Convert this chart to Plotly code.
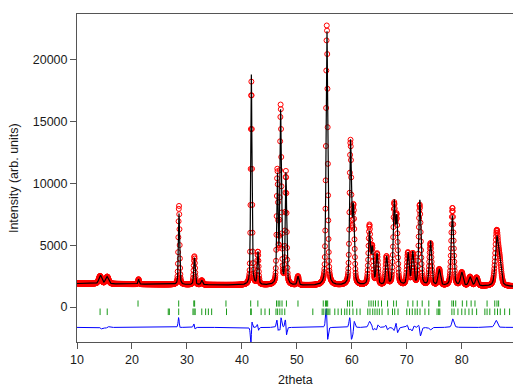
import numpy as np
import plotly.graph_objects as go

# ---------------- data ----------------
# Peak list: position (2theta), observed total height (counts), FWHM (deg)
peak_pos = [14.2, 15.5, 21.2, 28.55, 31.35, 32.7, 41.72, 42.9, 46.45, 47.05, 48.0,
            50.2, 55.45, 59.75, 60.3, 63.2, 63.7, 64.6, 66.3, 67.7, 68.15, 70.2,
            71.1, 72.35, 74.3, 75.9, 78.3, 80.0, 81.5, 82.7, 86.35, 86.9]
peak_top = [2500, 2450, 2250, 8200, 4100, 2150, 18200, 4400, 10800, 16100, 10800,
            2450, 22800, 13200, 7800, 6400, 4600, 4200, 4000, 7900, 6900, 4300,
            4200, 8200, 5100, 3000, 8000, 2750, 2400, 2350, 5900, 3400]
peak_fwhm = [0.6, 0.6, 0.25, 0.26, 0.3, 0.35, 0.27, 0.3, 0.3, 0.32, 0.3,
             0.35, 0.36, 0.38, 0.4, 0.42, 0.42, 0.4, 0.42, 0.42, 0.42, 0.45,
             0.45, 0.45, 0.48, 0.5, 0.5, 0.55, 0.55, 0.55, 0.65, 0.65]
# Calculated-pattern deviation per peak (shift in deg, height ratio calc/obs)
calc_shift = [0.05, -0.05, 0.0, 0.01, 0.02, 0.0, -0.01, 0.02, 0.01, -0.008, 0.015,
              0.0, 0.016, 0.02, -0.025, 0.0, 0.025, -0.025, 0.025, 0.0, 0.025, 0.025,
              -0.025, 0.02, 0.0, 0.0, -0.01, 0.0, 0.0, 0.0, 0.02, 0.0]
calc_ratio = [1.1, 1.0, 1.0, 0.9, 0.95, 1.0, 1.04, 1.0, 0.97, 0.97, 1.0,
              1.0, 0.98, 1.0, 1.0, 0.9, 1.0, 1.0, 1.0, 1.05, 1.0, 1.0,
              1.05, 1.06, 1.06, 1.0, 0.9, 1.0, 1.0, 1.0, 0.88, 1.0]
# Background points
bg_x = [10, 20, 30, 40, 50, 60, 70, 80, 89.5]
bg_y = [1900, 1850, 1800, 1770, 1740, 1720, 1700, 1680, 1660]
diff_offset = -1650
# Bragg reflection positions, phase 1 (upper row) and phase 2 (lower row)
bragg1 = [21.1, 28.5, 31.25, 31.4, 37.1, 41.6, 42.9, 46.3, 46.6, 46.9, 47.3, 48.1,
          50.2, 54.8, 55.2, 55.4, 55.6, 59.2, 59.6, 60.1, 63.1, 63.5, 63.9, 64.3,
          64.8, 65.4, 66.5, 67.6, 68.1, 70.2, 71.1, 71.9, 72.8, 74.0, 75.8, 76.0,
          78.2, 78.5, 78.9, 80.1, 80.9, 81.7, 82.4, 84.6, 86.0, 86.4, 86.7]
bragg2 = [14.2, 15.5, 26.6, 26.8, 28.5, 31.1, 31.3, 31.5, 32.7, 33.4, 33.9, 34.5,
          37.2, 41.6, 41.7, 43.5, 44.2, 45.0, 46.2, 46.5, 46.9, 47.3, 47.8, 52.9,
          54.6, 54.9, 55.3, 55.5, 55.7, 56.0, 56.9, 57.5, 58.1, 58.7, 59.1, 59.6,
          60.2, 60.9, 61.5, 62.9, 63.3, 63.8, 64.2, 64.6, 65.0, 65.5, 66.6, 67.4,
          67.8, 68.4, 70.0, 70.5, 71.0, 71.5, 71.9, 72.4, 73.3, 74.0, 75.5, 75.8,
          76.0, 78.2, 78.6, 79.3, 80.0, 80.6, 81.3, 81.9, 82.7, 84.2, 84.6, 85.1,
          86.0, 86.5, 87.0, 87.8, 88.7]
bragg1_span = [30, 530]
bragg2_span = [-120, -650]
y_ticks = [0, 5000, 10000, 15000, 20000]
x_ticks = [10, 20, 30, 40, 50, 60, 70, 80]
step = 0.04
x_range = [10, 89.5]
y_range = [-2830, 23700]

# ---------------- build profiles ----------------
tth = np.arange(x_range[0], x_range[1] + 1e-9, step)
bg = np.interp(tth, bg_x, bg_y)


def profile(pos, height, fwhm, eta=0.4):
    d = tth - pos
    g = np.exp(-4 * np.log(2) * (d / fwhm) ** 2)
    lor = 1.0 / (1 + 4 * (d / fwhm) ** 2)
    return height * (eta * lor + (1 - eta) * g)


obs = bg.copy()
calc = bg.copy()
for p, t, w, s, r in zip(peak_pos, peak_top, peak_fwhm, calc_shift, calc_ratio):
    net = t - float(np.interp(p, bg_x, bg_y))
    obs += profile(p, net, w)
    calc += profile(p + s, net * r, w)
diff = obs - calc + diff_offset


def tick_segments(positions, span):
    xs, ys = [], []
    for p in positions:
        xs += [p, p, None]
        ys += [span[0], span[1], None]
    return xs, ys


b1x, b1y = tick_segments(bragg1, bragg1_span)
b2x, b2y = tick_segments(bragg2, bragg2_span)

fig = go.Figure()
fig.add_trace(go.Scatter(x=tth, y=obs, mode="markers",
                         marker=dict(symbol="circle-open", size=5, color="#ff0000",
                                     line=dict(width=1, color="#ff0000")),
                         showlegend=False))
fig.add_trace(go.Scatter(x=tth, y=calc, mode="lines",
                         line=dict(color="black", width=1.2), showlegend=False))
fig.add_trace(go.Scatter(x=tth, y=diff, mode="lines",
                         line=dict(color="#0000ff", width=1), showlegend=False))
fig.add_trace(go.Scatter(x=b1x, y=b1y, mode="lines",
                         line=dict(color="#1a9a1a", width=1), showlegend=False))
fig.add_trace(go.Scatter(x=b2x, y=b2y, mode="lines",
                         line=dict(color="#1a9a1a", width=1), showlegend=False))

font = dict(family="Liberation Sans, Arial, sans-serif", size=12.5, color="#1a1a1a")
axis_common = dict(showline=True, mirror=True, linecolor="#555555", linewidth=1,
                   ticks="outside", ticklen=6, tickcolor="#555555", showgrid=False,
                   zeroline=False, tickfont=font, automargin=False)
# page body has an 8px default margin, so the figure is shifted by 8px
fig.update_layout(
    width=513, height=380,
    margin=dict(l=69, r=7, t=6, b=46),
    paper_bgcolor="white", plot_bgcolor="white",
    font=font,
    xaxis=dict(range=x_range, tickvals=x_ticks, ticktext=[str(v) for v in x_ticks],
               **axis_common),
    yaxis=dict(range=y_range, tickvals=y_ticks, ticktext=[str(v) for v in y_ticks],
               **axis_common),
    annotations=[
        dict(text="Intensity (arb. units)", xref="paper", yref="paper",
             x=-0.144, y=0.5, textangle=-90, showarrow=False,
             xanchor="center", yanchor="middle", font=font),
        dict(text="2theta", xref="paper", yref="paper",
             x=0.5, y=-0.116, showarrow=False,
             xanchor="center", yanchor="middle", font=font),
    ],
)
fig.write_html("out.html")
